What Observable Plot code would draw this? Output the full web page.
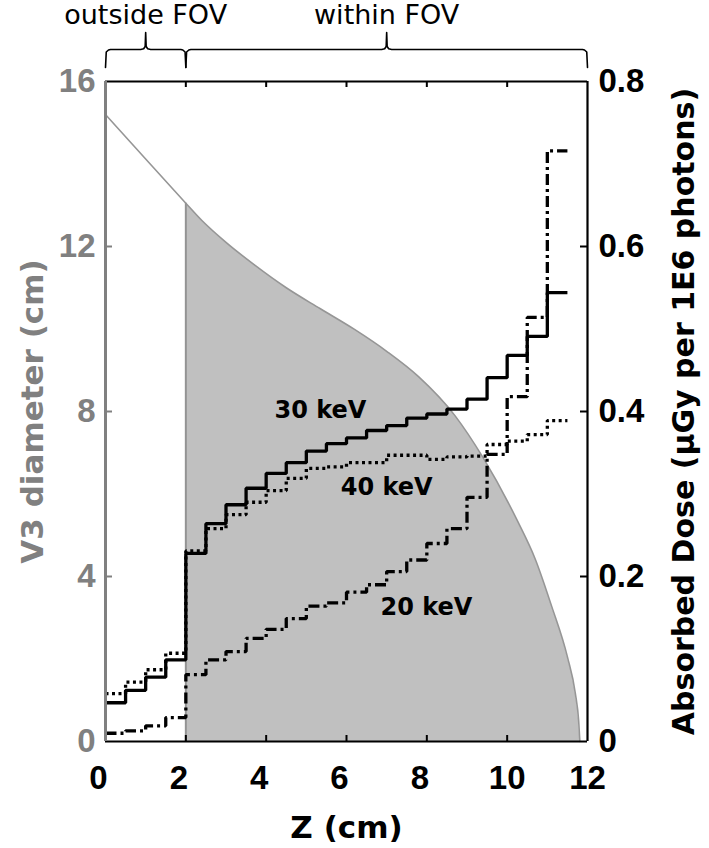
<!DOCTYPE html>
<html><head><meta charset="utf-8">
<script src="https://cdn.jsdelivr.net/npm/d3@7"></script>
<script src="https://cdn.jsdelivr.net/npm/@observablehq/plot@0.6"></script>
<style>html,body{margin:0;padding:0;background:#fff}#chart svg{display:block}</style>
</head><body><div id="chart"></div>
<script>
// ---- data ----
const fovStart = 2.0;
const zDiam = [0, 1.0, 2.0, 2.4, 3.0, 3.7, 4.5, 5.35, 6.2, 7.0, 7.8, 8.7, 9.4, 10.25, 10.7, 11.1, 11.5, 11.7, 11.78, 11.81];
const diameter = [15.2, 14.12, 13.05, 12.63, 12.1, 11.56, 11.0, 10.49, 9.99, 9.46, 8.84, 7.9, 6.88, 5.36, 4.42, 3.3, 2.05, 1.15, 0.5, 0];

const binEdges = [0,0.5,1,1.5,2,2.5,3,3.5,4,4.5,5,5.5,6,6.5,7,7.5,8,8.5,9,9.5,10,10.5,11,11.5];
const dose30 = [0.047,0.062,0.078,0.099,0.228,0.264,0.287,0.307,0.325,0.338,0.352,0.361,0.368,0.377,0.383,0.392,0.397,0.403,0.415,0.441,0.468,0.491,0.544];
const dose40 = [0.058,0.072,0.087,0.107,0.231,0.258,0.275,0.290,0.304,0.319,0.331,0.333,0.338,0.338,0.347,0.347,0.342,0.345,0.346,0.360,0.364,0.372,0.389];
const dose20 = [0.010,0.013,0.019,0.029,0.081,0.099,0.109,0.125,0.136,0.149,0.164,0.168,0.181,0.190,0.206,0.220,0.240,0.258,0.296,0.348,0.418,0.514,0.716];

const seriesDash = ["3,3.5", "11,4,3,4", null];
const labelNames = ["30 keV", "40 keV", "20 keV"];
const labelZ = [5.35, 7.0, 7.99];
const labelDose = [0.401, 0.308, 0.1625];

const xTicks = [0,2,4,6,8,10,12];
const yTicks = [0,4,8,12,16];
const doseTicks = [0,0.2,0.4,0.6,0.8];
const doseTickLabels = ["0","0.2","0.4","0.6","0.8"];

const braceFrom = [0, fovStart];
const braceTo = [fovStart, 12];
const braceLabels = ["outside FOV", "within FOV"];

// ---- layout ----
const W = 709, H = 848, mL = 105, mR = 122, mT = 81, mB = 107;
const xMax = 12, yMax = 16, doseMax = 0.8;
const pxX = (W - mL - mR) / xMax, pxY = (H - mT - mB) / yMax;
const k = yMax / doseMax; // dose -> left-axis units
const FONT = "DejaVu Sans";
const TICKFONT = "Liberation Sans";

const diamPts = zDiam.map((z, i) => ({z, d: diameter[i]}));
const diamAtFov = diameter[zDiam.indexOf(fovStart)];

const doseSeries = [dose40, dose20, dose30];
const stepPts = [];
doseSeries.forEach((arr, s) => {
  arr.forEach((v, i) => stepPts.push({s, z: binEdges[i], y: v * k}));
  stepPts.push({s, z: binEdges[arr.length], y: arr[arr.length - 1] * k});
});

// braces (pixel offsets above frame converted to data units)
const yEnd = yMax + 14 / pxY, yBar = yMax + 32 / pxY, yTip = yMax + 49 / pxY;
const r = 5 / pxX, ry = 5 / pxY;
const bracePts = [];
braceFrom.forEach((a, i) => {
  const b = braceTo[i], m = (a + b) / 2;
  const pts = [
    [a, yEnd], [a + 0.15 * r, yBar - 0.5 * ry], [a + 0.6 * r, yBar - 0.1 * ry], [a + r, yBar],
    [m - r, yBar], [m - 0.4 * r, yBar + 0.15 * ry], [m - 0.1 * r, yBar + 0.6 * ry], [m, yTip],
    [m + 0.1 * r, yBar + 0.6 * ry], [m + 0.4 * r, yBar + 0.15 * ry], [m + r, yBar],
    [b - r, yBar], [b - 0.6 * r, yBar - 0.1 * ry], [b - 0.15 * r, yBar - 0.5 * ry], [b, yEnd]
  ];
  pts.forEach(([x, y]) => bracePts.push({i, x, y}));
});

const gray = "#808080";
const tickText = {fontSize: 33, fontWeight: "bold", fontFamily: TICKFONT};

const plot = Plot.plot({
  width: W, height: H,
  marginLeft: mL, marginRight: mR, marginTop: mT, marginBottom: mB,
  x: {domain: [0, xMax], axis: null},
  y: {domain: [0, yMax], axis: null},
  marks: [
    Plot.areaY(diamPts.filter(d => d.z >= fovStart), {x: "z", y: "d", fill: "#c0c0c0", curve: "monotone-x"}),
    Plot.line(diamPts, {x: "z", y: "d", stroke: "#969696", strokeWidth: 1.6, curve: "monotone-x"}),
    Plot.ruleX([fovStart], {y1: () => 0, y2: () => diamAtFov, stroke: "#939393", strokeWidth: 2}),
    ...doseSeries.map((_, s) => Plot.line(stepPts.filter(p => p.s === s), {
      x: "z", y: "y", curve: "step-after", stroke: "black", strokeWidth: 3.3,
      strokeDasharray: seriesDash[s], strokeLinejoin: "miter", strokeLinecap: "butt"
    })),
    // frame
    Plot.ruleY([yMax], {stroke: "black", strokeWidth: 2.2}),
    Plot.ruleY([0], {stroke: "black", strokeWidth: 2.2}),
    Plot.ruleX([xMax], {stroke: "black", strokeWidth: 2.2}),
    Plot.ruleX([0], {stroke: gray, strokeWidth: 3}),
    // inward ticks
    Plot.ruleX(xTicks.slice(1, -1), {y1: () => 0, y2: () => 6 / pxY, stroke: "black", strokeWidth: 2}),
    Plot.ruleX(xTicks.slice(1, -1), {y1: () => yMax - 6 / pxY, y2: () => yMax, stroke: "black", strokeWidth: 2}),
    Plot.ruleY(yTicks.slice(1, -1), {x1: () => 0, x2: () => 7 / pxX, stroke: gray, strokeWidth: 2}),
    Plot.ruleY(doseTicks.slice(1, -1).map(v => v * k), {x1: () => xMax - 7 / pxX, x2: () => xMax, stroke: "black", strokeWidth: 2}),
    // tick labels
    Plot.text(xTicks.filter(d => d < 10), {x: d => d, y: () => 0, dy: 37, dx: -7, text: d => String(d), ...tickText, fill: "black"}),
    Plot.text(xTicks.filter(d => d >= 10), {x: d => d, y: () => 0, dy: 37, text: d => String(d), ...tickText, fill: "black"}),
    Plot.text(yTicks, {x: () => 0, y: d => d, dx: -10, text: d => String(d), textAnchor: "end", ...tickText, fill: gray}),
    Plot.text(doseTicks, {x: () => xMax, y: d => d * k, dx: 11, text: (d, i) => doseTickLabels[i], textAnchor: "start", ...tickText, fill: "black"}),
    // axis titles
    Plot.text(["V3 diameter (cm)"], {frameAnchor: "left", dx: -72, rotate: -90, textAnchor: "middle", lineAnchor: "middle", fontSize: 31, fontWeight: "bold", fontFamily: FONT, fill: gray}),
    Plot.text(["Absorbed Dose (µGy per 1E6 photons)"], {frameAnchor: "right", dx: 97, rotate: -90, textAnchor: "middle", lineAnchor: "middle", fontSize: 30, fontWeight: "bold", fontFamily: FONT, fill: "black"}),
    Plot.text(["Z (cm)"], {frameAnchor: "bottom", dy: 87, textAnchor: "middle", lineAnchor: "middle", fontSize: 31, fontWeight: "bold", fontFamily: FONT, fill: "black"}),
    // series labels
    Plot.text(labelNames, {x: (d, i) => labelZ[i], y: (d, i) => labelDose[i] * k, text: d => d, fontSize: 24, fontWeight: "bold", fontFamily: FONT, fill: "black"}),
    // braces
    Plot.line(bracePts, {x: "x", y: "y", z: "i", stroke: "black", strokeWidth: 1.6}),
    Plot.text(braceLabels, {x: (d, i) => (braceFrom[i] + braceTo[i]) / 2, y: () => yMax, dy: -66, text: d => d, fontSize: 27, fontFamily: FONT, fill: "black"})
  ]
});
document.getElementById("chart").appendChild(plot);
</script>
</body></html>
